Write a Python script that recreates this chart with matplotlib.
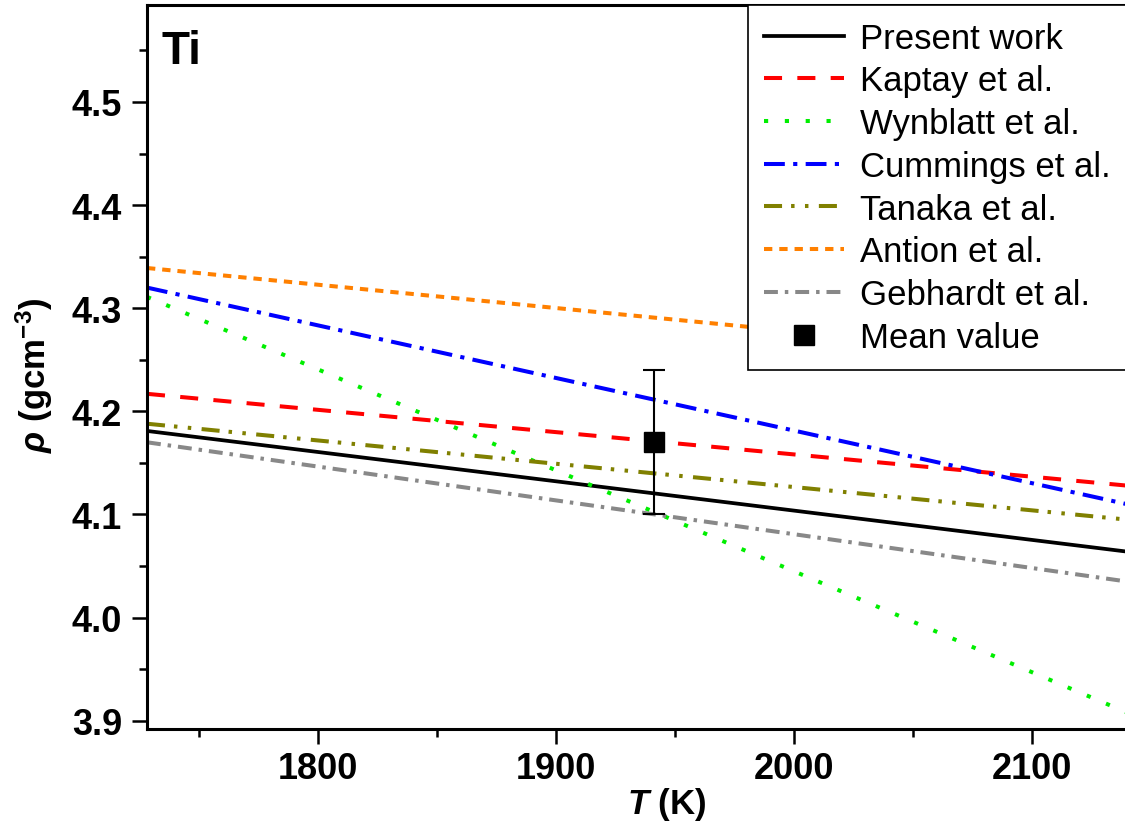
import numpy as np
import matplotlib
matplotlib.use('Agg')
import matplotlib.pyplot as plt
from matplotlib.ticker import MultipleLocator

plt.rcParams['font.family'] = ['Liberation Sans', 'DejaVu Sans']
plt.rcParams['mathtext.fontset'] = 'custom'
plt.rcParams['mathtext.rm'] = 'Liberation Sans:bold'
plt.rcParams['mathtext.it'] = 'Liberation Sans:bold:italic'
plt.rcParams['mathtext.bf'] = 'Liberation Sans:bold'
plt.rcParams['lines.scale_dashes'] = False

# line end points (T in K, rho in g/cm3)
T_ends = [1728, 2140]
present = [4.181, 4.064]
kaptay = [4.217, 4.128]
wynblatt = [4.311, 3.908]
cummings = [4.320, 4.110]
tanaka = [4.188, 4.095]
antion = [4.339, 4.246]
gebhardt = [4.170, 4.035]

mean_T = 1941
mean_rho = 4.17
mean_err = 0.07

series = [
    ('Present work', present, '#000000', None),
    ('Kaptay et al.', kaptay, '#ff0000', (13, 11)),
    ('Wynblatt et al.', wynblatt, '#00ee00', (3, 12)),
    ('Cummings et al.', cummings, '#0000ff', (15, 6, 3, 6)),
    ('Tanaka et al.', tanaka, '#808000', (13, 6.5, 2.5, 7.5, 2.5, 7.5)),
    ('Antion et al.', antion, '#ff8000', (6, 5)),
    ('Gebhardt et al.', gebhardt, '#888888', (10, 5, 2.5, 5)),
]

fig = plt.figure(figsize=(11.25, 8.29), dpi=100)
ax = fig.add_axes([147/1125, 99/829, 980/1125, 724/829])

for name, vals, col, dash in series:
    ln, = ax.plot(T_ends, vals, color=col, lw=2.9 if dash else 2.7, label=name)
    if dash is not None:
        ln.set_dashes(dash)

ax.errorbar([mean_T], [mean_rho], yerr=[mean_err], fmt='none', ecolor='black',
            elinewidth=1.5, capsize=8, capthick=1.5, zorder=4)
ax.plot([mean_T], [mean_rho], 's', color='black', ms=15, label='Mean value', zorder=5)

ax.set_xlim(1728, 2140)
ax.set_ylim(3.892, 4.594)
ax.xaxis.set_major_locator(MultipleLocator(100))
ax.xaxis.set_minor_locator(MultipleLocator(50))
ax.yaxis.set_major_locator(MultipleLocator(0.1))
ax.yaxis.set_minor_locator(MultipleLocator(0.05))
ax.yaxis.set_major_formatter(matplotlib.ticker.FormatStrFormatter('%.1f'))
ax.tick_params(which='major', direction='out', length=11, width=1.8, labelsize=26, pad=5)
ax.tick_params(which='minor', direction='out', length=6, width=1.8)
ax.tick_params(axis='y', which='major', pad=7)
for lab in ax.get_xticklabels() + ax.get_yticklabels():
    lab.set_fontweight('bold')
for sp in ax.spines.values():
    sp.set_linewidth(2.2)

ax.set_xlabel(r'$\it{T}$ (K)', fontsize=25, fontweight='bold')
ax.set_ylabel(r'$\it{\rho}$ (gcm$^{-3}$)', fontsize=25, fontweight='bold')
ax.xaxis.set_label_coords(0.53, -0.077)
ax.yaxis.set_label_coords(-0.094, 0.49)

ax.text(0.015, 0.967, 'Ti', transform=ax.transAxes, fontsize=33, fontweight='bold',
        ha='left', va='top')

leg = ax.legend(loc='upper right', bbox_to_anchor=(1, 1), borderaxespad=0, fontsize=25,
                frameon=True, fancybox=False, framealpha=1, edgecolor='black',
                handlelength=2.3, handletextpad=0.45, labelspacing=0.28, borderpad=0.48)
leg.get_frame().set_linewidth(1.2)
leg.set_zorder(10)

fig.savefig('out.png', dpi=100)
